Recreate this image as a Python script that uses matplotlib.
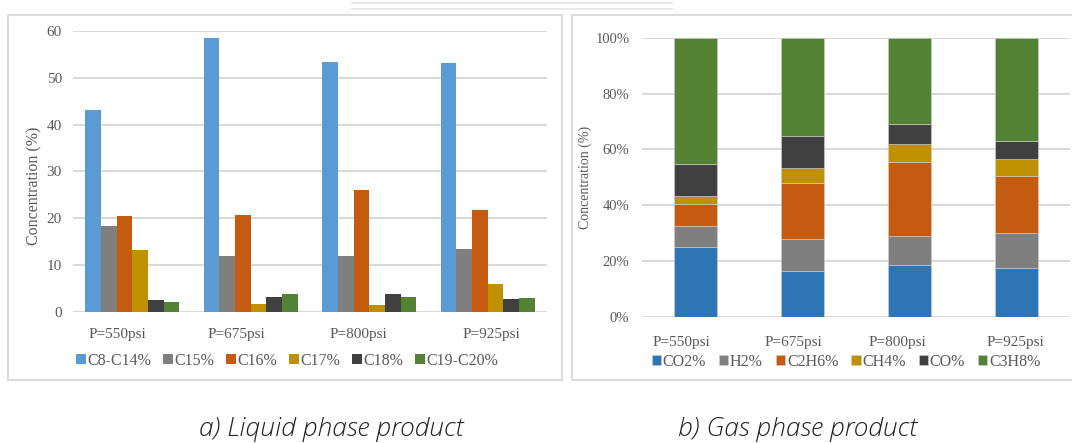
import numpy as np
import matplotlib
matplotlib.use("Agg")
import matplotlib.pyplot as plt
from matplotlib.patches import Rectangle
from matplotlib.lines import Line2D
from matplotlib.transforms import ScaledTranslation

# data
pressures = ["P=550psi", "P=675psi", "P=800psi", "P=925psi"]

liquid_names = ["C8-C14%", "C15%", "C16%", "C17%", "C18%", "C19-C20%"]
c8_c14 = [43.0, 58.5, 53.3, 53.1]
c15 = [18.3, 11.9, 11.9, 13.4]
c16 = [20.6, 20.7, 26.1, 21.8]
c17 = [13.2, 1.7, 1.6, 6.0]
c18 = [2.6, 3.3, 4.0, 2.8]
c19_c20 = [2.3, 3.9, 3.3, 3.1]

gas_names = ["CO2%", "H2%", "C2H6%", "CH4%", "CO%", "C3H8%"]
co2 = [25.0, 16.4, 18.4, 17.6]
h2 = [7.5, 11.6, 10.5, 12.3]
c2h6 = [7.9, 20.0, 26.4, 20.5]
ch4 = [2.7, 5.2, 6.6, 6.0]
co = [11.7, 11.7, 7.3, 6.7]
c3h8 = [45.2, 35.1, 30.8, 36.9]

liquid_colors = ["#5B9BD5", "#7F7F7F", "#C55A11", "#BF9000", "#404040", "#538135"]
gas_colors = ["#2E75B6", "#7F7F7F", "#C55A11", "#BF9000", "#404040", "#548235"]

W, H = 1072, 443
fig = plt.figure(figsize=(W / 100, H / 100), dpi=100)
serif = "Liberation Serif"
tick_col = "#595959"
grid_col = "#d9d9d9"


def fx(px):
    return px / W


def fy(py):
    return 1 - py / H


# panel frames and faint header lines
fig.patches.append(Rectangle((fx(8), fy(380)), fx(554), 365 / H, transform=fig.transFigure,
                             fill=False, ec="#dcdcdc", lw=1.5))
fig.patches.append(Rectangle((fx(572), fy(380)), fx(520), 365 / H, transform=fig.transFigure,
                             fill=False, ec="#dcdcdc", lw=1.5))
for yy in (3, 9):
    fig.lines.append(Line2D([fx(352), fx(672)], [fy(yy), fy(yy)], transform=fig.transFigure,
                            color="#e4e4e4", lw=1.2))


def style_axes(ax, label_offsets, label_pad):
    for s in ax.spines.values():
        s.set_visible(False)
    ax.tick_params(length=0, colors=tick_col)
    ax.yaxis.grid(True, color=grid_col, lw=1.5)
    ax.set_axisbelow(True)
    ax.axhline(0, color=grid_col, lw=1.5, zorder=0.5)
    ax.set_xlim(-0.5, 3.5)
    ax.set_xticks(range(len(pressures)))
    ax.set_xticklabels(pressures, fontfamily=serif, fontsize=11, color=tick_col)
    ax.tick_params(axis="x", pad=label_pad)
    for lab, dx in zip(ax.get_xticklabels(), label_offsets):
        lab.set_transform(lab.get_transform() + ScaledTranslation(dx / 100, 0, fig.dpi_scale_trans))
    for lab in ax.get_yticklabels():
        lab.set_fontfamily(serif)


# a) liquid phase
ax1 = fig.add_axes([fx(73), fy(312.3), fx(474), (312.3 - 30.7) / H])
x = np.arange(len(pressures))
liquid = [c8_c14, c15, c16, c17, c18, c19_c20]
bw = 0.132
for i, (vals, name, col) in enumerate(zip(liquid, liquid_names, liquid_colors)):
    ax1.bar(x + (i - 2.5) * bw, vals, bw, color=col, label=name, zorder=2)
ax1.set_ylim(0, 60)
ax1.set_yticks(range(0, 61, 10))
ax1.tick_params(axis="y", labelsize=11, pad=8)
style_axes(ax1, [-15, -14, -11, 4], 11)
ax1.set_ylabel("Concentration (%)", fontfamily=serif, fontsize=11.5, color=tick_col)
ax1.yaxis.set_label_coords((42 - 73) / 474, 0.45)
leg1 = ax1.legend(ncol=6, loc="center", bbox_to_anchor=(fx(287), fy(361)),
                  bbox_transform=fig.transFigure, frameon=False, handlelength=0.6,
                  handleheight=0.6, handletextpad=0.1, columnspacing=0.75,
                  prop={"family": serif, "size": 11.5})
for t in leg1.get_texts():
    t.set_color(tick_col)

# b) gas phase
ax2 = fig.add_axes([fx(642), fy(316.7), fx(428), (316.7 - 37.7) / H])
gas = [co2, h2, c2h6, ch4, co, c3h8]
bottom = np.zeros(len(pressures))
for vals, name, col in zip(gas, gas_names, gas_colors):
    ax2.bar(x, vals, 0.40, bottom=bottom, color=col, label=name, zorder=2,
            edgecolor="#d0d0d0", linewidth=0.4)
    bottom += np.array(vals)
ax2.set_ylim(0, 100)
ax2.set_yticks(range(0, 101, 20))
ax2.set_yticklabels([f"{v}%" for v in range(0, 101, 20)])
ax2.tick_params(axis="y", labelsize=10.5, pad=9)
style_axes(ax2, [-14, -9, -12, -1], 14)
ax2.set_ylabel("Concentration (%)", fontfamily=serif, fontsize=10, color=tick_col)
ax2.yaxis.set_label_coords((592 - 642) / 428, 0.5)
leg2 = ax2.legend(ncol=6, loc="center", bbox_to_anchor=(fx(846), fy(362)),
                  bbox_transform=fig.transFigure, frameon=False, handlelength=0.6,
                  handleheight=0.6, handletextpad=0.1, columnspacing=0.8,
                  prop={"family": serif, "size": 11.5})
for t in leg2.get_texts():
    t.set_color(tick_col)

# captions
cap = dict(fontsize=19, style="italic", fontweight="light", family="Open Sans",
           color="#222222", ha="center", va="center")
fig.text(fx(331), fy(430), "a) Liquid phase product", **cap)
fig.text(fx(797), fy(430), "b) Gas phase product", **cap)

fig.savefig("out.png", dpi=100)
